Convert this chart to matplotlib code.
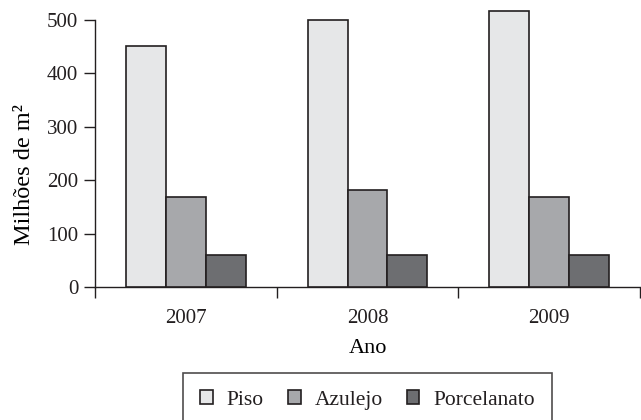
import matplotlib
matplotlib.use("Agg")
import matplotlib.pyplot as plt
import numpy as np

years = ["2007", "2008", "2009"]
series_names = ["Piso", "Azulejo", "Porcelanato"]
piso = [451, 500, 516]
azulejo = [169, 182, 169]
porcelanato = [59, 59, 59]
series_values = [piso, azulejo, porcelanato]
colors = ["#e6e7e8", "#a7a8ab", "#6d6e71"]
edge = "#231f20"

plt.rcParams["font.family"] = ["Liberation Serif", "DejaVu Serif"]
plt.rcParams["font.size"] = 15
plt.rcParams["text.color"] = edge
plt.rcParams["xtick.color"] = edge
plt.rcParams["ytick.color"] = edge

fig = plt.figure(figsize=(6.41, 4.20), dpi=100)
ax = fig.add_axes([95 / 641, 133 / 420, 545 / 641, 267 / 420])

x = np.arange(len(years))
width = 0.22
for i, (name, vals, col) in enumerate(zip(series_names, series_values, colors)):
    ax.bar(x + (i - 1) * width, vals, width, color=col, edgecolor=edge,
           linewidth=1.2, label=name, clip_on=False, zorder=3)

ax.set_xlim(-0.5, len(years) - 0.5)
ax.set_ylim(0, 500)
ax.set_yticks(range(0, 501, 100))
ax.set_xticks(np.arange(-0.5, len(years), 1.0))
ax.set_xticklabels([])
ax.set_xticks(x, minor=True)
ax.set_xticklabels(years, minor=True)
ax.tick_params(axis="x", which="minor", length=0, pad=16, labelsize=15)
ax.tick_params(axis="x", which="major", length=8, width=1)
ax.tick_params(axis="y", length=8, width=1, pad=4, labelsize=15)

for s in ["top", "right"]:
    ax.spines[s].set_visible(False)
for s in ["left", "bottom"]:
    ax.spines[s].set_color(edge)
    ax.spines[s].set_linewidth(1)

ax.set_xlabel("Ano", labelpad=8, fontsize=16)
ax.set_ylabel("Milhões de m²", fontsize=17.5)
ax.yaxis.set_label_coords(-0.11, 0.42)

leg = fig.legend(loc="upper center", bbox_to_anchor=(367.5 / 641, 47 / 420),
                 ncol=3, frameon=True, fancybox=False, edgecolor=edge,
                 fontsize=15.5,
                 handlelength=0.6, handleheight=0.6, handletextpad=0.65,
                 columnspacing=1.1, borderpad=0.8, borderaxespad=0)
leg.get_frame().set_linewidth(1.2)

fig.savefig("out.png", dpi=100)
